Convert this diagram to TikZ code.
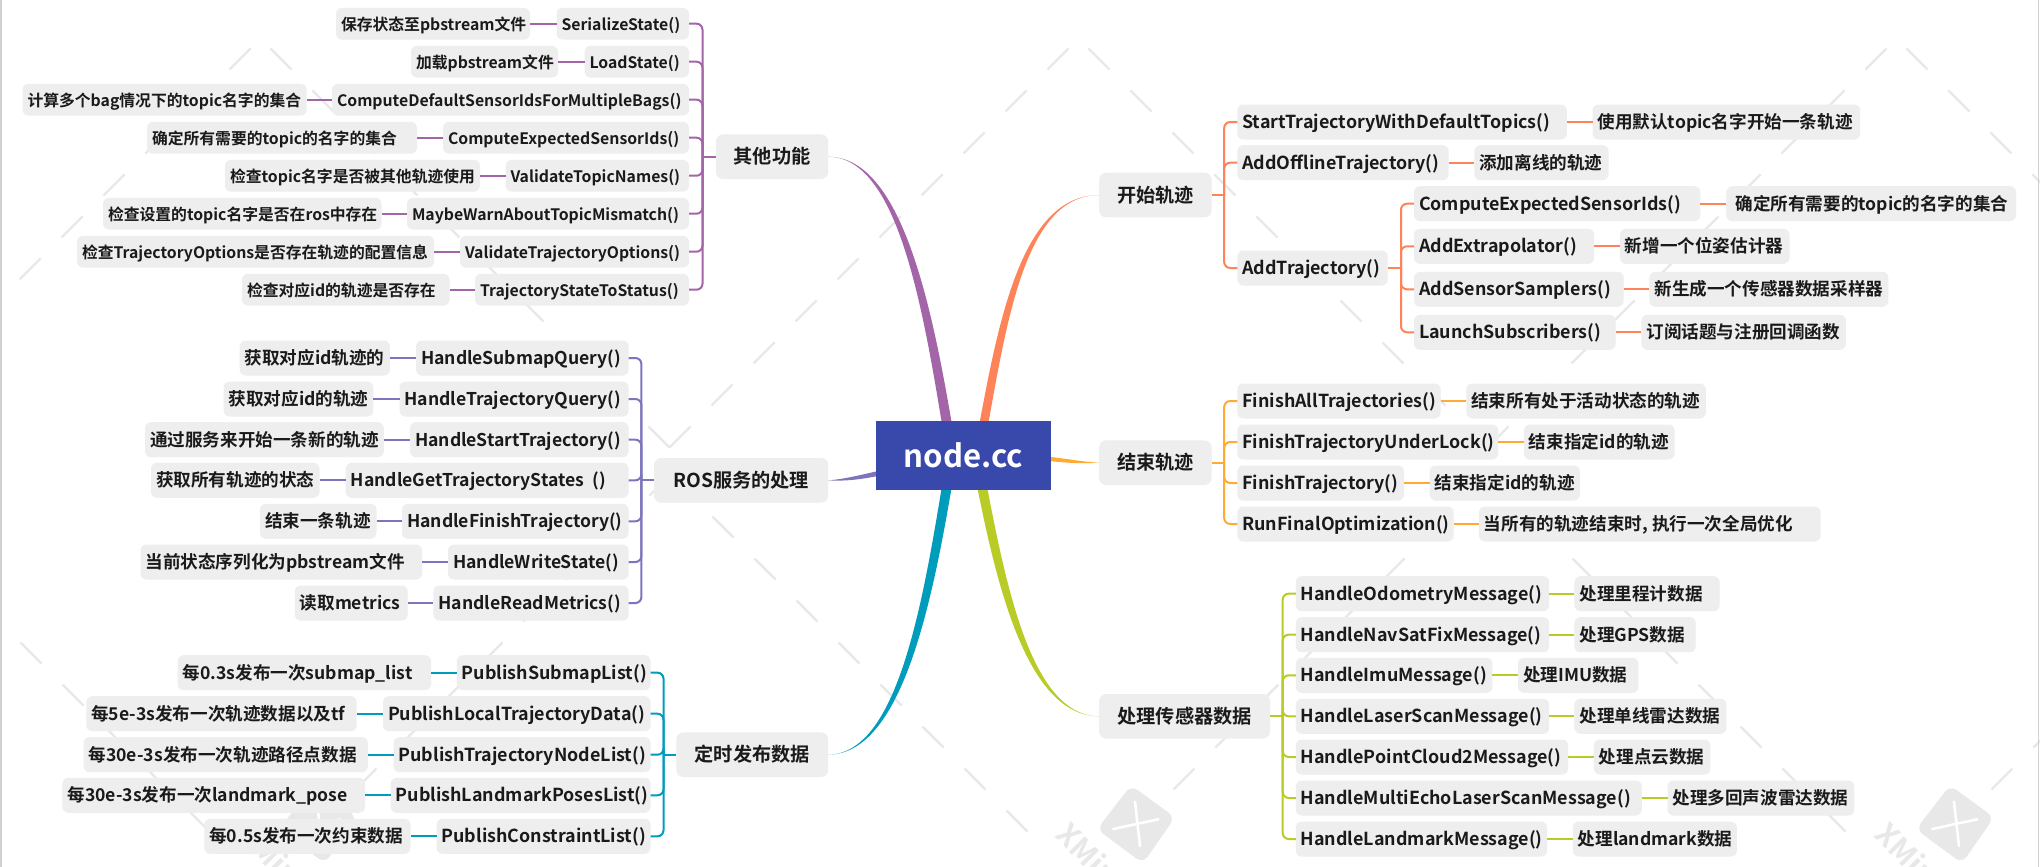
\documentclass[tikz,border=0pt]{standalone}
\usepackage{fontspec}
\setmainfont{Noto Sans CJK SC}[BoldFont={Noto Sans CJK SC Bold}]
\usetikzlibrary{calc}

\definecolor{rootblue}{HTML}{3949AB}
\definecolor{boxgray}{HTML}{EEEEEE}
\definecolor{inkdark}{HTML}{1A1A1A}
\definecolor{wmgray}{HTML}{E8E8E8}
\definecolor{cOther}{HTML}{A365A8}
\definecolor{cRos}{HTML}{7C75BE}
\definecolor{cPub}{HTML}{009CBC}
\definecolor{cStart}{HTML}{FF8358}
\definecolor{cFinish}{HTML}{FFAA33}
\definecolor{cSensor}{HTML}{B9CB27}

\tikzset{
	pillbox/.style={fill=boxgray,rounded corners=3pt,inner xsep=2.5pt,inner ysep=0pt,
		minimum height=17.5pt,outer sep=0pt,text=inkdark,text height=7pt,text depth=0.6pt},
	topicbox/.style={fill=boxgray,rounded corners=3.5pt,inner sep=0pt,minimum height=22.3pt,
		outer sep=0pt,text=inkdark,text height=8pt,text depth=0.8pt,font=\fontsize{9.6}{11}\bfseries},
	wmline/.style={wmgray,line width=1.2pt,dash pattern=on 14.85pt off 14.85pt},
	twig/.style={#1,line width=1pt,rounded corners=3pt}
}

% one row of grey boxes: name/left/right/y/text
\newcommand{\pillrows}[1]{
	\foreach \nm/\xa/\xb/\yy/\txt in {#1}{
		\pgfmathsetmacro{\tw}{(\xb-\xa)*0.5-5}
		\node[pillbox] (\nm) at ({(\xa+\xb)/2},\yy) {\makebox[\tw pt][l]{\txt}};
	}
}
% same, for the function names on the wider branches
\newcommand{\fnrows}[1]{
	\begin{scope}[every node/.style={font=\fontsize{8.95}{10.5}\bfseries}]
		\pillrows{#1}
	\end{scope}
}
% tapered main branch: colour, start, control, control, end, half width
\newcommand{\taper}[6]{
	\fill[#1] (#2) .. controls ($(#3)+0.45*#6$) and ($(#4)+#6$) .. ($(#5)+#6$)
	-- ($(#5)-#6$) .. controls ($(#4)-#6$) and ($(#3)-0.45*#6$) .. (#2) -- cycle;
}

\begin{document}
\begin{tikzpicture}[x=0.5pt,y=-0.5pt,every node/.style={font=\fontsize{8.8}{10.5}\bfseries}]
	\useasboundingbox (0,0) rectangle (2040,867);
	\fill[white] (0,0) rectangle (2040,867);
	
	% ======================================================
	% Watermark
	% ======================================================
	\begin{scope}
		\clip (0,0) rectangle (2040,867);
		\foreach \ax in {-148.5,669.5,1487.5,2305.5}{
			\draw[wmline] (\ax,447.5) -- ++(-399,-399);
			\draw[wmline] (\ax,447.5) -- ++(399,-399);
			\draw[wmline] (\ax+1,474.5) -- ++(357,357);
			\draw[wmline] (\ax+1,474.5) -- ++(-315,315);
		}
		\foreach \lx in {318,1136,1955}{
			\begin{scope}[shift={(\lx,823.3)}]
				\fill[wmgray,rounded corners=4pt] (-5,-38) -- (39,-6) -- (7,40) -- (-39,6) -- cycle;
				\draw[white,line width=1.3pt,line cap=round] (-1,-21.7) -- (4,22.7);
				\draw[white,line width=1.3pt,line cap=round] (-22.7,5.7) -- (22.3,-4);
				\node[rotate=-45,anchor=west,text=wmgray,font=\fontsize{15}{15}\bfseries] at (-78,0) {XMind};
			\end{scope}
		}
	\end{scope}
	\fill[wmgray!90!black] (0,0) rectangle (1.5,867);
	\fill[wmgray!90!black] (2037.5,0) rectangle (2039,867);
	
	% ======================================================
	% Topic boxes
	% ======================================================
	\foreach \nm/\xa/\xb/\yy/\txt in {oth/716/828.2/156.7/其他功能, ros/654/828.2/480.3/ROS服务的处理,
		pub/676.3/828.2/754.7/定时发布数据, sta/1099.2/1211.6/195/开始轨迹,
		fin/1099.2/1211.6/462.7/结束轨迹, sen/1099.2/1270/716.3/处理传感器数据}{
		\pgfmathsetmacro{\tw}{(\xb-\xa)*0.5}
		\node[topicbox,minimum width=\tw pt] (\nm) at ({(\xa+\xb)/2},\yy) {\txt};
	}
	
	% Main branches
	\taper{cOther}{oth.east}{903,157}{930,320}{952,455}{(5,0)}
	\taper{cStart}{sta.west}{1018,195}{1000,340}{978,455}{(4.5,0)}
	\taper{cPub}{pub.east}{903,754}{930,590}{952,455}{(5,0)}
	\taper{cSensor}{sen.west}{1025,716}{998,570}{976,455}{(5,0)}
	\taper{cFinish}{fin.west}{1080,462.7}{1070,461}{1040,458}{(0,2.2)}
	\taper{cRos}{ros.east}{845,480.3}{862,477}{885,472}{(0,2.5)}
	
	% Centre
	\node[fill=rootblue,text=white,inner sep=0pt,minimum width=87.35pt,minimum height=34.5pt,
	font=\fontsize{15.6}{18}\bfseries] (root) at (963.45,455.5) {node.cc};
	
	% ======================================================
	% Other functions
	% ======================================================
	\begin{scope}[every node/.style={font=\fontsize{7.9}{9.5}\bfseries},pillbox/.append style={minimum height=15.85pt}]
		\pillrows{ss/556.5/689/23.7/SerializeState(), lds/584.5/689/61.7/LoadState(),
			cd/332/689/99.7/ComputeDefaultSensorIdsForMultipleBags(), ces/443/689/137.7/ComputeExpectedSensorIds(),
			vt/505.5/689/175.7/ValidateTopicNames(), mw/407/689/213.7/MaybeWarnAboutTopicMismatch(),
			vo/460/689/251.7/ValidateTrajectoryOptions(), ts/475/689/289.7/TrajectoryStateToStatus(),
			ss-d/336/530/23.7/保存状态至pbstream文件, lds-d/411/558/61.7/加载pbstream文件,
			cd-d/22.5/306.7/99.7/计算多个bag情况下的topic名字的集合, ces-d/147/417/137.7/确定所有需要的topic的名字的集合,
			vt-d/225/480/175.7/检查topic名字是否被其他轨迹使用, mw-d/103/381.5/213.7/检查设置的topic名字是否在ros中存在,
			vo-d/77/434/251.7/检查TrajectoryOptions是否存在轨迹的配置信息, ts-d/242/449.5/289.7/检查对应id的轨迹是否存在}
	\end{scope}
	\coordinate (trOth) at (702.5,156.7);
	\foreach \fn in {ss,lds,cd,ces,vt,mw,vo,ts}{
		\draw[twig=cOther] (\fn.east) -| (trOth);
		\draw[twig=cOther] (\fn-d.east) -- (\fn.west);
	}
	\draw[twig=cOther] (trOth) -- (oth.west);
	
	% ======================================================
	% ROS services
	% ======================================================
	\pillrows{hs/416/628.6/358/HandleSubmapQuery(), ht/399.5/628.6/399/HandleTrajectoryQuery(),
		hb/410/628.6/439.7/HandleStartTrajectory(), hg/345.7/628.6/480.3/HandleGetTrajectoryStates\ \ (),
		hf/402/628.6/521.3/HandleFinishTrajectory(), hw/448/628.6/562/HandleWriteState(),
		hr/433.4/628.6/603/HandleReadMetrics(),
		hs-d/239.7/389.8/358/获取对应id轨迹的, ht-d/223.6/373.3/399/获取对应id的轨迹,
		hb-d/145/383.8/439.7/通过服务来开始一条新的轨迹, hg-d/151/319.6/480.3/获取所有轨迹的状态,
		hf-d/260/376.5/521.3/结束一条轨迹, hw-d/140.5/422/562/当前状态序列化为pbstream文件,
		hr-d/294.8/407.7/603/读取metrics}
	\coordinate (trRos) at (641.4,480.3);
	\foreach \fn in {hs,ht,hb,hg,hf,hw,hr}{
		\draw[twig=cRos] (\fn.east) -| (trRos);
		\draw[twig=cRos] (\fn-d.east) -- (\fn.west);
	}
	\draw[twig=cRos] (trRos) -- (ros.west);
	
	% ======================================================
	% Timed publishing
	% ======================================================
	\fnrows{ps/456.8/650.6/672.7/PublishSubmapList(), pl/383/650.6/713.7/PublishLocalTrajectoryData(),
		pt/393.5/650.6/754.7/PublishTrajectoryNodeList(), pk/390.7/650.6/795.3/PublishLandmarkPosesList(),
		pc/436.6/650.6/836.3/PublishConstraintList()}
	\pillrows{ps-d/177.7/431/672.7/每0.3s发布一次submap\_list, pl-d/86.3/356.7/713.7/每5e-3s发布一次轨迹数据以及tf,
		pt-d/83.6/367.8/754.7/每30e-3s发布一次轨迹路径点数据, pk-d/62.4/365/795.3/每30e-3s发布一次landmark\_pose,
		pc-d/204.3/410.5/836.3/每0.5s发布一次约束数据}
	\coordinate (trPub) at (663.5,754.7);
	\foreach \fn in {ps,pl,pt,pk,pc}{
		\draw[twig=cPub] (\fn.east) -| (trPub);
		\draw[twig=cPub] (\fn-d.east) -- (\fn.west);
	}
	\draw[twig=cPub] (trPub) -- (pub.west);
	
	% ======================================================
	% Starting a trajectory
	% ======================================================
	\fnrows{st/1237.3/1566.9/122/StartTrajectoryWithDefaultTopics(), ao/1237.3/1448.6/162.7/AddOfflineTrajectory(),
		at/1237.3/1387.6/268/AddTrajectory(),
		ce/1414/1700.3/203.7/ComputeExpectedSensorIds(), ax/1414/1594.2/246.3/AddExtrapolator(),
		as/1414/1623.7/289.3/AddSensorSamplers(), lb/1414/1615.7/332.3/LaunchSubscribers()}
	\pillrows{st-d/1592.5/1860.2/122/使用默认topic名字开始一条轨迹, ao-d/1474.3/1608.5/162.7/添加离线的轨迹,
		ce-d/1726.4/2016/203.7/\ 确定所有需要的topic的名字的集合, ax-d/1619.9/1789.5/246.3/新增一个位姿估计器,
		as-d/1649.4/1888.4/289.3/新生成一个传感器数据采样器, lb-d/1641.4/1845.9/332.3/订阅话题与注册回调函数}
	\coordinate (trSta) at (1224.2,195);
	\coordinate (trAdd) at (1401,268);
	\foreach \fn in {st,ao,at}{
		\draw[twig=cStart] (\fn.west) -| (trSta);
	}
	\draw[twig=cStart] (sta.east) -- (trSta);
	\foreach \fn in {ce,ax,as,lb}{
		\draw[twig=cStart] (\fn.west) -| (trAdd);
	}
	\draw[twig=cStart] (at.east) -- (trAdd);
	\foreach \fn in {st,ao,ce,ax,as,lb}{
		\draw[twig=cStart] (\fn.east) -- (\fn-d.west);
	}
	
	% ======================================================
	% Finishing a trajectory
	% ======================================================
	\fnrows{fa/1237.3/1440.6/401/FinishAllTrajectories(), fu/1237.3/1498.3/442/FinishTrajectoryUnderLock(),
		ft/1237.3/1404/483/FinishTrajectory(), rf/1237.3/1453.7/524/RunFinalOptimization()}
	\pillrows{fa-d/1466.3/1705.8/401/结束所有处于活动状态的轨迹, fu-d/1523.9/1674.6/442/结束指定id的轨迹,
		ft-d/1429.7/1579.9/483/结束指定id的轨迹, rf-d/1478.9/1820.7/524/{当所有的轨迹结束时, 执行一次全局优化}}
	\coordinate (trFin) at (1224.2,462.7);
	\foreach \fn in {fa,fu,ft,rf}{
		\draw[twig=cFinish] (\fn.west) -| (trFin);
		\draw[twig=cFinish] (\fn.east) -- (\fn-d.west);
	}
	\draw[twig=cFinish] (fin.east) -- (trFin);
	
	% ======================================================
	% Sensor data
	% ======================================================
	\fnrows{od/1295.8/1549.2/593.7/HandleOdometryMessage(), ns/1295.8/1549.2/634.7/HandleNavSatFixMessage(),
		im/1295.8/1492.4/675.3/HandleImuMessage(), lc/1295.8/1549.2/716.3/HandleLaserScanMessage(),
		pd/1295.8/1568.1/757/HandlePointCloud2Message(), me/1295.8/1641.8/798/HandleMultiEchoLaserScanMessage(),
		lm/1295.8/1547.1/839/HandleLandmarkMessage()}
	\pillrows{od-d/1574.4/1719.6/593.7/处理里程计数据, ns-d/1574.4/1695.7/634.7/处理GPS数据,
		im-d/1518/1638.4/675.3/处理IMU数据, lc-d/1574.4/1726.4/716.3/处理单线雷达数据,
		pd-d/1593.8/1710.4/757/处理点云数据, me-d/1667.5/1854.3/798/处理多回声波雷达数据,
		lm-d/1572.8/1736.9/839/处理landmark数据}
	\coordinate (trSen) at (1282.7,716.3);
	\foreach \fn in {od,ns,im,lc,pd,me,lm}{
		\draw[twig=cSensor] (\fn.west) -| (trSen);
		\draw[twig=cSensor] (\fn.east) -- (\fn-d.west);
	}
	\draw[twig=cSensor] (sen.east) -- (trSen);
	
\end{tikzpicture}
\end{document}
